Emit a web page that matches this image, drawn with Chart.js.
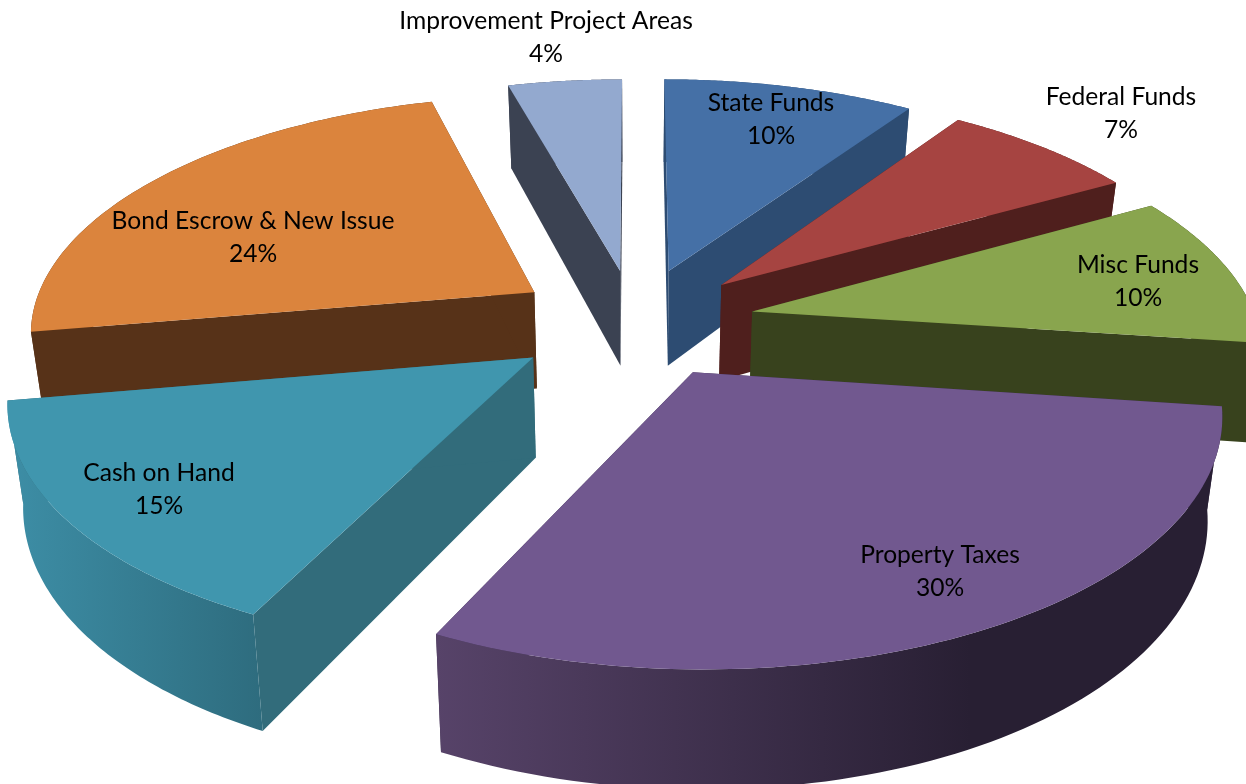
<!DOCTYPE html>
<html>
<head>
<meta charset="utf-8">
<title>Revenue sources</title>
<script src="https://cdn.jsdelivr.net/npm/chart.js@4/dist/chart.umd.min.js"></script>
<style>
  html, body { margin: 0; padding: 0; background: #fff; overflow: hidden; }
  #wrap { width: 1246px; height: 784px; }
</style>
</head>
<body>
<div id="wrap"><canvas id="pie"></canvas></div>
<script>
// ── data ──
const categories = ['State Funds', 'Federal Funds', 'Misc Funds', 'Property Taxes', 'Cash on Hand', 'Bond Escrow & New Issue', 'Improvement Project Areas'];
const shares = [9.5, 7.4, 10.3, 30.2, 15.1, 23.5, 4.3]; // labels show these rounded

// ── styles ──
const topColors = ['#4570a6', '#a64441', '#89a54e', '#71588f', '#4096ae', '#db843d', '#93a9cf'];
const cutColors = ['#2d4c72', '#4f1f1d', '#38421d', '#3a2c4a', '#326c7b', '#573218', '#3b4252'];
const wallStart = ['#2d4c72', '#4f1f1d', '#38421d', '#574369', '#3d8ea6', '#573218', '#3b4252'];
const wallEnd = ['#2d4c72', '#4f1f1d', '#38421d', '#281f33', '#2e6c7e', '#573218', '#3b4252'];
const wallStop = [1, 1, 1, 0.68, 1, 1, 1];
const explode = [82, 83, 83, 82, 86, 84, 79];
const labelCentres = [[771, 120], [1121, 114], [1138, 282], [940, 572], [159, 490], [253, 238], [546, 38]];

// perspective of the tilted pie
const view = { cx: 635, cy: 322, rx: 505, ry: 235, depth: 98, persp: 0.152, lean: 0.025 };

function project(wx, wy, z) {
  const s = 1 / (1 + view.persp * wy);
  let x = view.rx * wx * s;
  x = x * (1 - view.lean * z);
  return [view.cx + x, view.cy - view.ry * wy * s + z * view.depth * s];
}

function tracePoly(ctx, pts) {
  ctx.beginPath();
  pts.forEach((p, i) => i ? ctx.lineTo(p[0], p[1]) : ctx.moveTo(p[0], p[1]));
  ctx.closePath();
}

function drawSlice(ctx, arc, i) {
  const mid = (arc.startAngle + arc.endAngle) / 2;
  const e = arc.options.offset / arc.outerRadius;
  const ox = Math.cos(mid) * e, oy = -Math.sin(mid) * e;
  const rim = [];
  const steps = 80;
  for (let k = 0; k <= steps; k++) {
    const a = arc.startAngle + (arc.endAngle - arc.startAngle) * k / steps;
    rim.push([ox + Math.cos(a), oy - Math.sin(a)]);
  }
  const topRim = rim.map(p => project(p[0], p[1], 0));
  const lowRim = rim.map(p => project(p[0], p[1], 1));
  const apexTop = project(ox, oy, 0), apexLow = project(ox, oy, 1);

  const drawWall = () => {
    const xs = topRim.concat(lowRim).map(p => p[0]);
    const g = ctx.createLinearGradient(Math.min(...xs), 0, Math.max(...xs), 0);
    g.addColorStop(0, wallStart[i]);
    g.addColorStop(wallStop[i], wallEnd[i]);
    g.addColorStop(1, wallEnd[i]);
    ctx.fillStyle = g;
    tracePoly(ctx, topRim.concat(lowRim.slice().reverse()));
    ctx.fill();
  };
  const drawCuts = () => {
    ctx.fillStyle = cutColors[i];
    tracePoly(ctx, [apexTop, topRim[0], lowRim[0], apexLow]);
    ctx.fill();
    tracePoly(ctx, [apexTop, topRim[steps], lowRim[steps], apexLow]);
    ctx.fill();
  };

  if (oy > 0) { drawWall(); drawCuts(); } else { drawCuts(); drawWall(); }

  ctx.fillStyle = topColors[i];
  tracePoly(ctx, [apexTop].concat(topRim));
  ctx.fill();
}

// chart.js works out the slice angles, this paints them tilted
const pie3d = {
  id: 'pie3d',
  beforeDatasetsDraw(chart) {
    const ctx = chart.ctx;
    const arcs = chart.getDatasetMeta(0).data;
    const order = arcs.map((a, i) => i).sort((a, b) => {
      const ma = (arcs[a].startAngle + arcs[a].endAngle) / 2;
      const mb = (arcs[b].startAngle + arcs[b].endAngle) / 2;
      return Math.sin(ma) - Math.sin(mb);
    });
    ctx.save();
    order.forEach(i => drawSlice(ctx, arcs[i], i));
    ctx.fillStyle = '#000';
    ctx.font = '24.6px Lato';
    ctx.textAlign = 'center';
    ctx.textBaseline = 'middle';
    categories.forEach((c, i) => {
      const [x, y] = labelCentres[i];
      ctx.fillText(c, x, y - 16.5);
      ctx.fillText(Math.round(shares[i]) + '%', x, y + 16.5);
    });
    ctx.restore();
    return false;
  }
};

new Chart(document.getElementById('pie'), {
  type: 'pie',
  data: {
    labels: categories,
    datasets: [{ data: shares, backgroundColor: topColors, offset: explode, borderWidth: 0 }]
  },
  options: {
    responsive: true,
    maintainAspectRatio: false,
    animation: false,
    plugins: { legend: { display: false }, tooltip: { enabled: false } }
  },
  plugins: [pie3d]
});
</script>
</body>
</html>
